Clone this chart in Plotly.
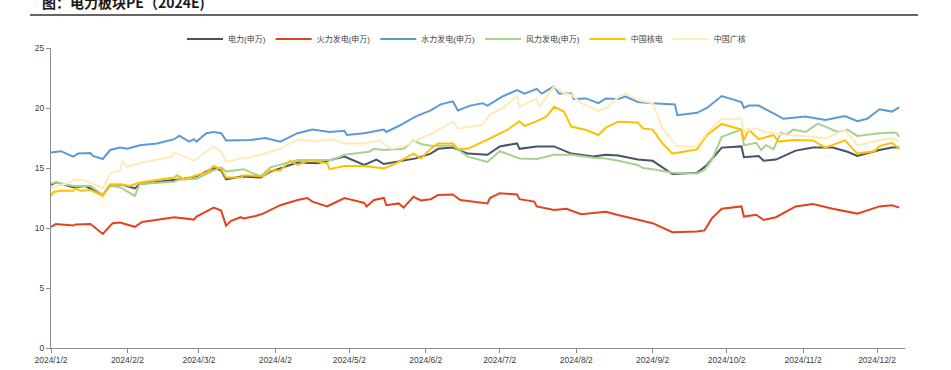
import plotly.graph_objects as go

# ---------------- data ----------------
names = ["电力(申万)", "火力发电(申万)", "水力发电(申万)", "风力发电(申万)", "中国核电", "中国广核"]
colors = ["#44546A", "#E2431E", "#5B9BD5", "#A9D18E", "#FFC000", "#FFEBB8"]

power_dates = ["2024-01-02", "2024-01-04", "2024-01-11", "2024-01-16", "2024-01-23", "2024-01-26", "2024-01-31",
               "2024-02-05", "2024-02-07", "2024-02-21", "2024-02-25", "2024-03-01", "2024-03-08", "2024-03-11",
               "2024-03-13", "2024-03-19", "2024-03-27", "2024-03-31", "2024-04-11", "2024-04-19", "2024-04-25",
               "2024-04-30", "2024-05-08", "2024-05-13", "2024-05-16", "2024-05-24", "2024-05-29", "2024-06-04",
               "2024-06-07", "2024-06-13", "2024-06-19", "2024-06-27", "2024-07-02", "2024-07-09", "2024-07-10",
               "2024-07-17", "2024-07-24", "2024-07-31", "2024-08-09", "2024-08-14", "2024-08-19", "2024-08-27",
               "2024-09-02", "2024-09-10", "2024-09-20", "2024-09-24", "2024-09-30", "2024-10-08", "2024-10-09",
               "2024-10-15", "2024-10-17", "2024-10-22", "2024-10-30", "2024-11-06", "2024-11-14", "2024-11-20",
               "2024-11-24", "2024-12-03", "2024-12-08", "2024-12-11"]
power_pe = [13.6, 13.8, 13.4, 13.5, 12.75, 13.6, 13.6,
            13.3, 13.67, 14.05, 14.1, 14.3, 15.0, 14.8,
            14.05, 14.3, 14.2, 14.7, 15.45, 15.4, 15.67,
            15.95, 15.25, 15.7, 15.33, 15.6, 15.8, 16.2,
            16.6, 16.7, 16.2, 16.1, 16.8, 17.05, 16.6,
            16.8, 16.8, 16.2, 15.95, 16.1, 16.05, 15.7,
            15.6, 14.5, 14.6, 15.25, 16.7, 16.8, 15.9,
            16.0, 15.6, 15.7, 16.45, 16.7, 16.7, 16.35,
            16.0, 16.5, 16.7, 16.7]

thermal_dates = ["2024-01-02", "2024-01-04", "2024-01-11", "2024-01-12", "2024-01-18", "2024-01-23", "2024-01-27",
                 "2024-01-30", "2024-02-05", "2024-02-08", "2024-02-21", "2024-02-29", "2024-03-01", "2024-03-08",
                 "2024-03-11", "2024-03-13", "2024-03-15", "2024-03-19", "2024-03-20", "2024-03-25", "2024-03-28",
                 "2024-04-04", "2024-04-11", "2024-04-15", "2024-04-17", "2024-04-23", "2024-04-25", "2024-04-30",
                 "2024-05-08", "2024-05-09", "2024-05-12", "2024-05-16", "2024-05-17", "2024-05-22", "2024-05-24",
                 "2024-05-28", "2024-05-31", "2024-06-04", "2024-06-07", "2024-06-13", "2024-06-16", "2024-06-27",
                 "2024-06-28", "2024-07-02", "2024-07-09", "2024-07-10", "2024-07-16", "2024-07-17", "2024-07-24",
                 "2024-07-29", "2024-08-04", "2024-08-06", "2024-08-14", "2024-08-19", "2024-09-02", "2024-09-10",
                 "2024-09-20", "2024-09-23", "2024-09-26", "2024-09-30", "2024-10-08", "2024-10-09", "2024-10-14",
                 "2024-10-17", "2024-10-22", "2024-10-30", "2024-11-06", "2024-11-14", "2024-11-24", "2024-12-03",
                 "2024-12-08", "2024-12-11"]
thermal_pe = [10.1, 10.33, 10.2, 10.3, 10.33, 9.5, 10.4,
              10.45, 10.1, 10.5, 10.9, 10.7, 10.95, 11.7,
              11.45, 10.2, 10.6, 10.9, 10.8, 11.0, 11.2,
              11.9, 12.33, 12.5, 12.2, 11.8, 12.0, 12.5,
              12.1, 11.8, 12.33, 12.5, 11.9, 12.05, 11.7,
              12.6, 12.3, 12.4, 12.75, 12.8, 12.33, 12.05,
              12.5, 12.9, 12.8, 12.4, 12.2, 11.8, 11.5,
              11.6, 11.15, 11.2, 11.36, 11.08, 10.4, 9.65,
              9.7, 9.8, 10.8, 11.6, 11.8, 10.95, 11.1,
              10.67, 10.9, 11.8, 12.0, 11.6, 11.2, 11.8,
              11.9, 11.7]

hydro_dates = ["2024-01-02", "2024-01-06", "2024-01-11", "2024-01-13", "2024-01-18", "2024-01-19", "2024-01-23",
               "2024-01-24", "2024-01-26", "2024-01-30", "2024-02-02", "2024-02-07", "2024-02-14", "2024-02-21",
               "2024-02-23", "2024-02-27", "2024-02-29", "2024-03-01", "2024-03-05", "2024-03-08", "2024-03-11",
               "2024-03-13", "2024-03-19", "2024-03-23", "2024-03-29", "2024-04-04", "2024-04-11", "2024-04-17",
               "2024-04-24", "2024-04-30", "2024-05-01", "2024-05-08", "2024-05-16", "2024-05-17", "2024-05-22",
               "2024-05-29", "2024-06-04", "2024-06-08", "2024-06-13", "2024-06-15", "2024-06-20", "2024-06-25",
               "2024-06-27", "2024-07-03", "2024-07-09", "2024-07-12", "2024-07-17", "2024-07-19", "2024-07-24",
               "2024-07-26", "2024-07-31", "2024-08-01", "2024-08-06", "2024-08-11", "2024-08-14", "2024-08-19",
               "2024-08-22", "2024-08-27", "2024-09-02", "2024-09-11", "2024-09-12", "2024-09-20", "2024-09-24",
               "2024-09-30", "2024-10-08", "2024-10-09", "2024-10-11", "2024-10-15", "2024-10-21", "2024-10-25",
               "2024-11-03", "2024-11-11", "2024-11-19", "2024-11-24", "2024-11-28", "2024-12-03", "2024-12-08",
               "2024-12-11"]
hydro_pe = [16.3, 16.4, 15.95, 16.2, 16.25, 16.0, 15.75,
            16.0, 16.5, 16.7, 16.6, 16.9, 17.05, 17.4,
            17.7, 17.2, 17.4, 17.2, 17.9, 18.0, 17.9,
            17.3, 17.3, 17.33, 17.5, 17.2, 17.9, 18.2,
            18.0, 18.1, 17.75, 17.9, 18.2, 18.0, 18.5,
            19.3, 19.8, 20.3, 20.55, 19.8, 20.2, 20.4,
            20.2, 20.95, 21.5, 21.2, 21.6, 21.2, 21.8,
            21.2, 21.2, 20.75, 20.8, 20.4, 20.8, 20.75,
            20.95, 20.5, 20.4, 20.3, 19.4, 19.6, 20.0,
            21.0, 20.5, 20.0, 20.2, 20.2, 19.55, 19.1,
            19.3, 19.0, 19.33, 18.9, 19.1, 19.9, 19.7,
            20.05]

wind_dates = ["2024-01-02", "2024-01-04", "2024-01-11", "2024-01-18", "2024-01-23", "2024-01-26", "2024-01-30",
              "2024-02-05", "2024-02-07", "2024-02-21", "2024-02-23", "2024-03-01", "2024-03-08", "2024-03-11",
              "2024-03-13", "2024-03-19", "2024-03-20", "2024-03-27", "2024-03-31", "2024-04-11", "2024-04-25",
              "2024-04-30", "2024-05-10", "2024-05-12", "2024-05-16", "2024-05-24", "2024-05-28", "2024-05-31",
              "2024-06-04", "2024-06-13", "2024-06-19", "2024-06-27", "2024-07-02", "2024-07-10", "2024-07-17",
              "2024-07-24", "2024-07-31", "2024-08-09", "2024-08-14", "2024-08-19", "2024-08-27", "2024-08-29",
              "2024-09-02", "2024-09-10", "2024-09-20", "2024-09-23", "2024-09-26", "2024-09-30", "2024-10-08",
              "2024-10-09", "2024-10-14", "2024-10-16", "2024-10-18", "2024-10-21", "2024-10-24", "2024-10-26",
              "2024-10-29", "2024-11-03", "2024-11-08", "2024-11-11", "2024-11-16", "2024-11-20", "2024-11-24",
              "2024-12-03", "2024-12-08", "2024-12-10", "2024-12-11"]
wind_pe = [13.7, 13.8, 13.5, 13.5, 12.75, 13.5, 13.4,
           12.67, 13.67, 13.86, 14.05, 14.1, 14.8, 15.05,
           14.7, 14.83, 14.9, 14.3, 15.05, 15.67, 15.67,
           16.1, 16.35, 16.6, 16.5, 16.6, 17.3, 17.0,
           16.86, 16.86, 15.95, 15.5, 16.4, 15.8, 15.75,
           16.1, 16.1, 15.86, 15.8, 15.6, 15.25, 15.0,
           14.9, 14.6, 14.55, 14.83, 15.67, 17.6, 18.2,
           16.9, 17.1, 16.5, 16.9, 16.55, 17.95, 17.75,
           18.2, 18.0, 18.7, 18.45, 18.0, 18.2, 17.67,
           17.9, 17.95, 17.9, 17.6]

cnnp_dates = ["2024-01-02", "2024-01-03", "2024-01-06", "2024-01-11", "2024-01-12", "2024-01-14", "2024-01-18",
              "2024-01-23", "2024-01-26", "2024-01-31", "2024-02-03", "2024-02-07", "2024-02-21", "2024-02-22",
              "2024-02-25", "2024-03-01", "2024-03-05", "2024-03-08", "2024-03-11", "2024-03-13", "2024-03-19",
              "2024-03-20", "2024-03-28", "2024-03-31", "2024-04-04", "2024-04-08", "2024-04-11", "2024-04-16",
              "2024-04-23", "2024-04-24", "2024-04-30", "2024-05-08", "2024-05-16", "2024-05-21", "2024-05-28",
              "2024-05-31", "2024-06-04", "2024-06-07", "2024-06-13", "2024-06-15", "2024-06-19", "2024-06-27",
              "2024-06-28", "2024-07-05", "2024-07-10", "2024-07-12", "2024-07-17", "2024-07-21", "2024-07-24",
              "2024-07-28", "2024-07-31", "2024-08-06", "2024-08-11", "2024-08-14", "2024-08-19", "2024-08-27",
              "2024-08-29", "2024-09-02", "2024-09-06", "2024-09-10", "2024-09-20", "2024-09-24", "2024-09-30",
              "2024-10-08", "2024-10-09", "2024-10-11", "2024-10-15", "2024-10-21", "2024-10-23", "2024-10-29",
              "2024-11-06", "2024-11-11", "2024-11-19", "2024-11-24", "2024-12-01", "2024-12-03", "2024-12-08",
              "2024-12-11"]
cnnp_pe = [12.67, 13.0, 13.1, 13.1, 13.3, 13.1, 13.17,
           12.67, 13.6, 13.6, 13.5, 13.8, 14.2, 14.4,
           14.05, 14.4, 14.6, 15.17, 14.9, 14.2, 14.2,
           14.4, 14.33, 14.8, 14.8, 15.6, 15.25, 15.67,
           15.4, 14.9, 15.17, 15.17, 14.97, 15.4, 16.2,
           15.8, 16.6, 17.05, 17.05, 16.6, 16.6, 17.33,
           17.47, 18.17, 18.9, 18.5, 18.9, 19.3, 20.1,
           19.7, 18.45, 18.17, 17.75, 18.36, 18.86, 18.8,
           18.3, 18.2, 17.05, 16.2, 16.55, 17.75, 18.67,
           18.2, 17.33, 18.2, 17.4, 17.75, 17.2, 17.33,
           17.3, 16.7, 17.3, 16.2, 16.4, 16.83, 17.1,
           16.6]

cgn_dates = ["2024-01-02", "2024-01-08", "2024-01-12", "2024-01-16", "2024-01-23", "2024-01-26", "2024-01-30",
             "2024-01-31", "2024-02-02", "2024-02-07", "2024-02-14", "2024-02-20", "2024-02-21", "2024-02-29",
             "2024-03-05", "2024-03-08", "2024-03-11", "2024-03-13", "2024-03-19", "2024-03-23", "2024-03-28",
             "2024-04-04", "2024-04-11", "2024-04-18", "2024-04-25", "2024-04-30", "2024-05-08", "2024-05-14",
             "2024-05-19", "2024-05-24", "2024-05-31", "2024-06-04", "2024-06-07", "2024-06-13", "2024-06-15",
             "2024-06-20", "2024-06-25", "2024-06-28", "2024-07-03", "2024-07-09", "2024-07-10", "2024-07-17",
             "2024-07-18", "2024-07-24", "2024-07-28", "2024-07-31", "2024-08-04", "2024-08-11", "2024-08-15",
             "2024-08-19", "2024-08-22", "2024-08-27", "2024-09-02", "2024-09-06", "2024-09-12", "2024-09-20",
             "2024-09-24", "2024-09-30", "2024-10-08", "2024-10-09", "2024-10-14", "2024-10-18", "2024-10-26",
             "2024-11-06", "2024-11-11", "2024-11-19", "2024-11-24", "2024-12-03", "2024-12-08", "2024-12-11"]
cgn_pe = [13.4, 13.67, 14.05, 13.95, 13.3, 14.55, 14.8,
          15.6, 15.1, 15.4, 15.7, 15.9, 16.3, 15.6,
          16.36, 16.8, 16.36, 15.5, 15.8, 15.9, 16.17,
          16.6, 17.4, 17.2, 17.4, 17.05, 17.05, 17.3,
          16.6, 16.8, 17.5, 17.83, 18.17, 18.86, 18.3,
          18.45, 18.6, 19.47, 19.97, 21.0, 20.1, 20.8,
          20.1, 21.8, 21.2, 21.1, 20.4, 19.75, 20.1,
          20.9, 21.2, 20.67, 20.4, 18.3, 16.8, 16.8,
          17.9, 19.1, 19.1, 18.0, 18.3, 17.95, 17.75,
          17.6, 17.47, 18.17, 16.9, 17.33, 17.47, 17.2]

tick_dates = ["2024-01-02", "2024-02-02", "2024-03-02", "2024-04-02", "2024-05-02", "2024-06-02",
              "2024-07-02", "2024-08-02", "2024-09-02", "2024-10-02", "2024-11-02", "2024-12-02"]
tick_labels = ["2024/1/2", "2024/2/2", "2024/3/2", "2024/4/2", "2024/5/2", "2024/6/2",
               "2024/7/2", "2024/8/2", "2024/9/2", "2024/10/2", "2024/11/2", "2024/12/2"]

title_text = "图：电力板块PE（2024E)"

series = [
    (power_dates, power_pe),
    (thermal_dates, thermal_pe),
    (hydro_dates, hydro_pe),
    (wind_dates, wind_pe),
    (cnnp_dates, cnnp_pe),
    (cgn_dates, cgn_pe),
]

# ---------------- figure ----------------
FONT = "Liberation Sans, Noto Sans CJK SC, sans-serif"
fig = go.Figure()
for (d, v), n, c in zip(series, names, colors):
    fig.add_trace(go.Scatter(x=d, y=v, name=n, mode="lines",
                             line=dict(color=c, width=2)))

fig.update_layout(
    width=951, height=370,
    margin=dict(l=51, r=46, t=48, b=22, autoexpand=False),
    paper_bgcolor="white", plot_bgcolor="white",
    font=dict(family=FONT, size=9, color="#404040"),
    showlegend=True,
    legend=dict(orientation="h", x=0.1534, xanchor="left", y=1.030, yanchor="middle",
                font=dict(size=8, color="#404040"), itemwidth=36,
                bgcolor="rgba(0,0,0,0)", tracegroupgap=0),
    xaxis=dict(type="date", range=["2024-01-02", "2024-12-13 08:00"], automargin=False,
               tickmode="array", tickvals=tick_dates, ticktext=tick_labels,
               showgrid=False, zeroline=False, showline=True, linecolor="#8c8c8c", linewidth=1,
               ticks="outside", ticklen=4, tickcolor="#8c8c8c",
               tickfont=dict(size=8.5, color="#404040")),
    yaxis=dict(range=[0, 25], dtick=5, showgrid=False, zeroline=False, automargin=False,
               showline=True, linecolor="#8c8c8c", linewidth=1,
               ticks="outside", ticklen=4, tickcolor="#8c8c8c",
               tickfont=dict(size=8.5, color="#404040")),
)

fig.add_annotation(text="<b>" + title_text + "</b>", xref="paper", yref="paper",
                   x=-0.013, y=1.153, xanchor="left", yanchor="middle", showarrow=False,
                   font=dict(family="Noto Sans CJK SC", size=14, color="#1a1a1a"))
fig.add_shape(type="line", xref="paper", yref="paper", x0=-0.0246, x1=1.0152, y0=1.11, y1=1.11,
              line=dict(color="#333333", width=1.5))

fig.write_html("out.html", config={"displayModeBar": False},
               post_script="document.body.style.margin='0';")
